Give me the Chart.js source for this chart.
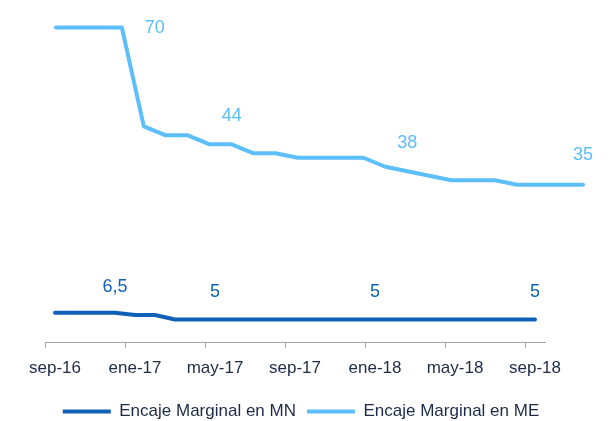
<!DOCTYPE html>
<html>
<head>
<meta charset="utf-8">
<script src="https://cdn.jsdelivr.net/npm/chart.js@4/dist/chart.umd.min.js"></script>
<style>
  body { margin: 0; background: #ffffff; }
</style>
</head>
<body>
<canvas id="chart-encaje" width="614" height="421"></canvas>
<script>
// months, sep-16 .. sep-18
var months = ["sep-16", "oct-16", "nov-16", "dic-16", "ene-17", "feb-17", "mar-17", "abr-17", "may-17",
              "jun-17", "jul-17", "ago-17", "sep-17", "oct-17", "nov-17", "dic-17", "ene-18", "feb-18",
              "mar-18", "abr-18", "may-18", "jun-18", "jul-18", "ago-18", "sep-18"];

var encajeMN = [6.5, 6.5, 6.5, 6.5, 6, 6, 5, 5, 5, 5, 5, 5, 5, 5, 5, 5, 5, 5, 5, 5, 5, 5, 5, 5, 5];
var encajeME = [70, 70, 70, 70, 48, 46, 46, 44, 44, 42, 42, 41, 41, 41, 41, 39, 38, 37, 36, 36, 36, 35, 35, 35, 35];

// data labels: point index + text
var labelsMNIdx = [3, 8, 16, 24];
var labelsMNText = ["6,5", "5", "5", "5"];
var labelsMEIdx = [3, 8, 16, 24];
var labelsMEText = ["70", "44", "38", "35"];

var colorMN = "#1060B8";
var colorME = "#5CBEFA";
var textDark = "#1E2B47";
var axisGray = "#A6A6A6";
var fontFamily = "'Liberation Sans', Arial, sans-serif";

// draws the value labels next to the points
var valueLabels = {
    id: "valueLabels",
    afterDatasetsDraw: function(chart) {
        var ctx = chart.ctx;
        var sets = [
            { ds: 0, idx: labelsMNIdx, text: labelsMNText, color: colorMN, dx: [0, 0, 0, 0], dy: [-26, -28, -28, -28] },
            { ds: 1, idx: labelsMEIdx, text: labelsMEText, color: colorME, dx: [33, 0, 0, 0], dy: [1, -28, -28, -30] }
        ];
        ctx.save();
        ctx.font = "18px " + fontFamily;
        ctx.textAlign = "center";
        ctx.textBaseline = "middle";
        sets.forEach(function(s) {
            var meta = chart.getDatasetMeta(s.ds);
            s.idx.forEach(function(i, k) {
                var pt = meta.data[i];
                ctx.fillStyle = s.color;
                ctx.fillText(s.text[k], pt.x + s.dx[k], pt.y + s.dy[k]);
            });
        });
        ctx.restore();
    }
};

var ctx = document.getElementById("chart-encaje").getContext("2d");
var chart = new Chart(ctx, {
    type: "line",
    data: {
        labels: months,
        datasets: [{
            label: "Encaje Marginal en MN",
            data: encajeMN,
            xAxisID: "x",
            borderColor: colorMN,
            backgroundColor: colorMN,
            borderWidth: 4,
            tension: 0,
            pointRadius: 0,
            borderCapStyle: "round",
            borderJoinStyle: "round",
            clip: false
        }, {
            label: "Encaje Marginal en ME",
            // secondary horizontal axis, like the original
            data: encajeME.map(function(v, i) { return { x: i, y: v }; }),
            xAxisID: "x2",
            borderColor: colorME,
            backgroundColor: colorME,
            borderWidth: 4,
            tension: 0,
            pointRadius: 0,
            borderCapStyle: "round",
            borderJoinStyle: "round",
            clip: false
        }]
    },
    options: {
        responsive: false,
        animation: false,
        layout: {
            padding: { top: 5, left: 0, right: 12, bottom: -9 }
        },
        plugins: {
            tooltip: { enabled: false },
            legend: {
                display: true,
                position: "bottom",
                labels: {
                    boxWidth: 48,
                    boxHeight: 4,
                    padding: 11,
                    color: textDark,
                    font: { size: 17, family: fontFamily },
                    generateLabels: function(chart) {
                        var items = Chart.defaults.plugins.legend.labels.generateLabels(chart);
                        items.forEach(function(it) { it.lineWidth = 0; });
                        return items;
                    }
                }
            }
        },
        scales: {
            x: {
                type: "category",
                position: "bottom",
                offset: true,
                afterFit: function(scale) { scale.height = 50; },
                grid: {
                    display: true,
                    offset: true,
                    drawOnChartArea: false,
                    drawTicks: true,
                    tickLength: 6,
                    color: function(c) { return c.index % 4 === 0 ? axisGray : "rgba(0,0,0,0)"; }
                },
                border: { display: true, color: axisGray, width: 1 },
                ticks: {
                    autoSkip: false,
                    maxRotation: 0,
                    padding: 10,
                    color: textDark,
                    font: { size: 17, family: fontFamily },
                    callback: function(value, index) {
                        return index % 4 === 0 ? this.getLabelForValue(value) : "";
                    }
                }
            },
            x2: {
                type: "linear",
                position: "bottom",
                display: false,
                bounds: "data",
                afterDataLimits: function(scale) {
                    scale.min = -0.5;
                    scale.max = 22.27;
                }
            },
            y: {
                position: "left",
                min: 0,
                max: 75,
                afterFit: function(scale) { scale.width = 45; },
                grid: { display: false },
                border: { display: false },
                ticks: { display: false }
            },
            yRight: {
                type: "linear",
                position: "right",
                afterFit: function(scale) { scale.width = 57; },
                grid: { display: false },
                border: { display: false },
                ticks: { display: false }
            }
        }
    },
    plugins: [valueLabels]
});
</script>
</body>
</html>
